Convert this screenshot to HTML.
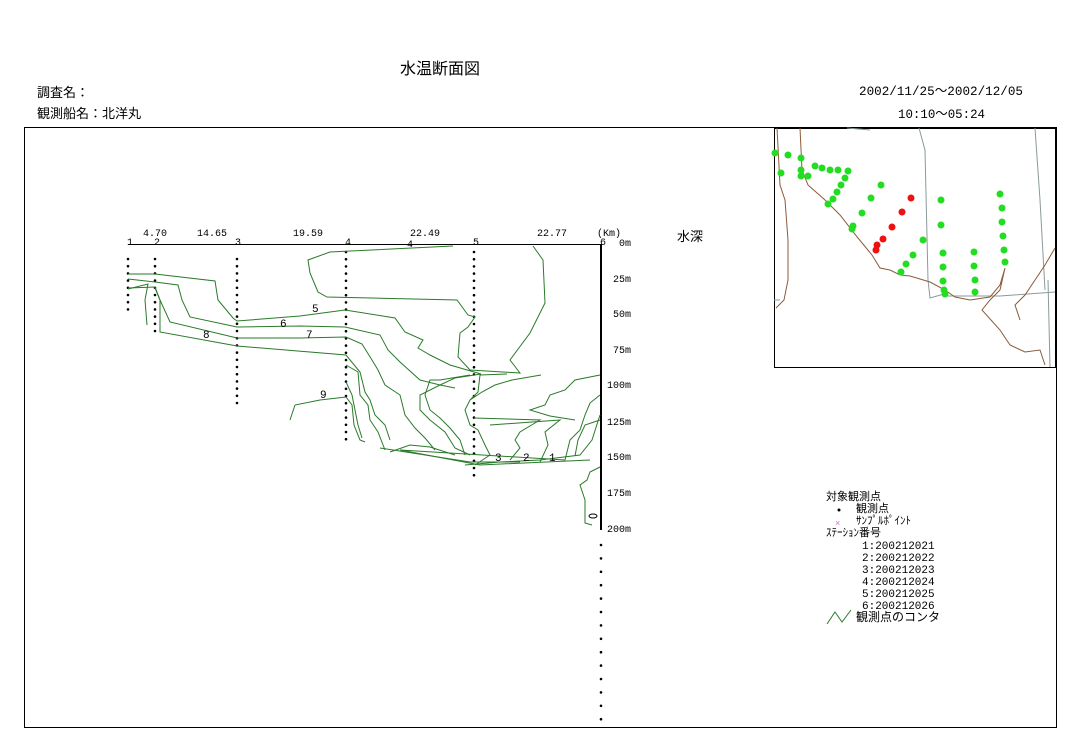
<!DOCTYPE html>
<html><head><meta charset="utf-8"><style>
body{margin:0;background:#fff;}
svg{display:block;font-family:"Liberation Sans","Noto Sans CJK JP",sans-serif;}
</style></head><body>
<svg width="1084" height="755" viewBox="0 0 1084 755" xmlns="http://www.w3.org/2000/svg">
<rect width="1084" height="755" fill="#fff"/>
<text x="400" y="74" font-size="16" fill="#000">水温断面図</text>
<text x="37" y="97" font-size="13">調査名：</text>
<text x="37" y="118" font-size="13">観測船名：北洋丸</text>
<text x="859" y="95" font-size="13" font-family="Liberation Mono,monospace" textLength="164" lengthAdjust="spacingAndGlyphs">2002/11/25～2002/12/05</text>
<text x="898" y="118" font-size="13" font-family="Liberation Mono,monospace" textLength="87" lengthAdjust="spacingAndGlyphs">10:10～05:24</text>
<rect x="24.5" y="127.5" width="1032" height="600" fill="none" stroke="#000" stroke-width="1"/>

<line x1="128" y1="244.5" x2="601" y2="244.5" stroke="#000" stroke-width="1"/>
<g font-size="10" font-family="Liberation Mono,monospace">
<text x="143" y="236">4.70</text><text x="197" y="236">14.65</text><text x="293" y="236">19.59</text>
<text x="410" y="236">22.49</text><text x="537" y="236">22.77</text><text x="597" y="236">(Km)</text>
<text x="127" y="245">1</text><text x="154" y="245">2</text><text x="235" y="245">3</text>
<text x="345" y="245">4</text><text x="473" y="245">5</text><text x="600" y="245">6</text>
<text x="407" y="247">4</text>
<text x="619" y="246">0m</text><text x="613" y="282">25m</text><text x="613" y="317">50m</text>
<text x="613" y="353">75m</text><text x="607" y="388">100m</text><text x="607" y="425">125m</text>
<text x="607" y="460">150m</text><text x="607" y="496">175m</text><text x="607" y="532">200m</text>
</g>
<text x="677" y="241" font-size="13">水深</text>

<g stroke="#000" stroke-width="2.6" stroke-linecap="round" stroke-dasharray="0 7.2">
<line x1="128" y1="259" x2="128" y2="312"/>
<line x1="155" y1="259" x2="155" y2="333"/>
<line x1="237" y1="259" x2="237" y2="405"/>
<line x1="346" y1="252" x2="346" y2="441"/>
<line x1="474" y1="252" x2="474" y2="477"/>
</g>
<line x1="601" y1="244" x2="601" y2="530" stroke="#000" stroke-width="2"/>
<line x1="601" y1="545" x2="601" y2="720" stroke="#000" stroke-width="2.6" stroke-linecap="round" stroke-dasharray="0 13.4"/>

<g fill="none" stroke="#2a7a2a" stroke-width="1">
<polyline points="453,246 330,252 308,260 310,273 318,292 327,297 457,300 468,315 475,317 468,327 460,333 458,357 470,370 520,373 510,360 530,333 545,303 543,260 533,246"/>
<polyline points="128,274 155,274 215,281 218,300 233,318 237,321 300,316 345,310 395,318 405,332 423,340 418,348 430,355 450,365 481,374 455,378 440,385 420,395 420,410 430,420 445,432 455,448 470,455"/>
<polyline points="128,279 155,282 178,285 182,300 190,317 237,327 300,326 345,327 380,335 388,350 400,362 420,380 440,385 455,388"/>
<polyline points="128,288 155,287 160,300 170,322 237,338 300,338 346,337 362,344 372,360 378,370 385,385 400,395 405,415 415,428 425,438 435,450"/>
<polyline points="128,289 148,284 145,300 147,325"/>
<polyline points="155,288 160,300 160,332 237,346 346,355 360,372 365,392 370,400 375,415 385,425 390,440"/>
<polyline points="346,365 358,372 360,395 368,405 370,420 378,432 385,450"/>
<polyline points="346,382 352,395 355,410 358,425 362,438"/>
<polyline points="290,420 295,405 320,400 346,397 352,405 354,425 360,440 365,442"/>
<polyline points="470,375 440,380 430,380 425,395 430,410 440,418 450,428 460,440 465,455"/>
<polyline points="507,374 480,375 478,392 470,400 465,410 470,425 478,430 485,445 490,455 475,465"/>
<polyline points="541,375 512,380 495,385 482,392 470,400"/>
<polyline points="474,418 540,420 520,432 515,440 520,448 510,460"/>
<polyline points="490,425 560,420 545,432 548,445 540,462"/>
<polyline points="600,395 590,403 585,415 580,430 570,440 565,460 400,450 480,465 590,460"/>
<polyline points="600,375 575,380 565,390 550,395 545,405 530,410 550,416 575,420"/>
<polyline points="600,420 585,425 578,440 575,456"/>
<polyline points="600,467 590,472 587,480 580,485 585,500 585,523 592,525"/>
<polyline points="465,465 500,462 540,460 580,455 592,440 600,415"/>
<polyline points="380,448 470,462 520,462"/>
<polyline points="390,452 410,445 430,447 455,455"/>
</g>
<ellipse cx="593" cy="516" rx="4" ry="2" fill="none" stroke="#000"/>
<g font-size="11" font-family="Liberation Mono,monospace">
<text x="312" y="312">5</text><text x="280" y="327">6</text><text x="306" y="338">7</text>
<text x="203" y="338">8</text><text x="320" y="398">9</text>
<text x="495" y="461">3</text><text x="523" y="461">2</text><text x="549" y="461">1</text>
</g>

<rect x="774.5" y="128.5" width="281" height="239" fill="#fff" stroke="#000"/>
<g fill="none" stroke="#8a9a9a" stroke-width="1">
<polyline points="919,128 925,150 928,280 930,298 944,294"/>
<polyline points="1035,128 1040,200 1045,290"/>
<polyline points="944,296 1000,296 1055,292"/>
<polyline points="1048,280 1050,367"/>
<polyline points="774,300 780,300"/>
<polyline points="847,128 870,130"/>
</g>
<g fill="none" stroke="#8b5a3a" stroke-width="1">
<polyline points="777,128 780,185 785,200 788,240 788,280 784,300 776,308"/>
<polyline points="800,128 802,170 808,185 825,200 840,215 858,238 872,255 880,268 890,270 900,275 910,276 930,282 945,290 955,297 970,300 990,297 1000,285 1005,268 1000,290 990,300 982,310 1000,330 1010,345 1025,352 1040,350 1045,365"/>
<polyline points="1055,248 1045,265 1035,280 1025,295 1015,305 1020,320"/>
</g>
<g fill="#22dd22">
<circle cx="775" cy="153" r="3.5"/><circle cx="788" cy="155" r="3.5"/><circle cx="801" cy="158" r="3.5"/>
<circle cx="781" cy="173" r="3.5"/><circle cx="801" cy="170" r="3.5"/><circle cx="801" cy="176" r="3.5"/>
<circle cx="808" cy="176" r="3.5"/><circle cx="815" cy="166" r="3.5"/><circle cx="822" cy="168" r="3.5"/>
<circle cx="830" cy="170" r="3.5"/><circle cx="838" cy="170" r="3.5"/><circle cx="848" cy="171" r="3.5"/>
<circle cx="845" cy="178" r="3.5"/><circle cx="841" cy="185" r="3.5"/><circle cx="837" cy="192" r="3.5"/>
<circle cx="833" cy="199" r="3.5"/><circle cx="828" cy="204" r="3.5"/>
<circle cx="881" cy="185" r="3.5"/><circle cx="871" cy="198" r="3.5"/><circle cx="862" cy="213" r="3.5"/>
<circle cx="853" cy="226" r="3.5"/><circle cx="852" cy="229" r="3.5"/>
<circle cx="923" cy="240" r="3.5"/><circle cx="913" cy="255" r="3.5"/><circle cx="906" cy="264" r="3.5"/><circle cx="901" cy="272" r="3.5"/>
<circle cx="941" cy="200" r="3.5"/><circle cx="941" cy="225" r="3.5"/><circle cx="943" cy="253" r="3.5"/>
<circle cx="943" cy="267" r="3.5"/><circle cx="943" cy="281" r="3.5"/><circle cx="944" cy="290" r="3.5"/><circle cx="945" cy="294" r="3.5"/>
<circle cx="974" cy="252" r="3.5"/><circle cx="974" cy="266" r="3.5"/><circle cx="975" cy="280" r="3.5"/><circle cx="975" cy="292" r="3.5"/>
<circle cx="1000" cy="194" r="3.5"/><circle cx="1002" cy="208" r="3.5"/><circle cx="1002" cy="222" r="3.5"/>
<circle cx="1003" cy="236" r="3.5"/><circle cx="1004" cy="250" r="3.5"/><circle cx="1005" cy="262" r="3.5"/>
</g>
<g fill="#ee1111">
<circle cx="911" cy="198" r="3.5"/><circle cx="902" cy="212" r="3.5"/><circle cx="892" cy="227" r="3.5"/>
<circle cx="883" cy="239" r="3.5"/><circle cx="877" cy="245" r="3.5"/><circle cx="876" cy="250" r="3.5"/>
</g>

<g font-size="11">
<text x="826" y="500">対象観測点</text>
<circle cx="839" cy="510" r="1.5" fill="#000"/>
<text x="856" y="512">観測点</text>
<text x="835" y="526" font-size="9" fill="#dd66cc">×</text>
<text x="856" y="524" font-size="11">ｻﾝﾌﾟﾙﾎﾟｲﾝﾄ</text>
<text x="826" y="536" font-size="11">ｽﾃｰｼｮﾝ番号</text>
</g>
<g font-size="11" font-family="Liberation Mono,monospace">
<text x="862" y="549">1:200212021</text><text x="862" y="561">2:200212022</text>
<text x="862" y="573">3:200212023</text><text x="862" y="585">4:200212024</text>
<text x="862" y="597">5:200212025</text><text x="862" y="609">6:200212026</text>
</g>
<polyline points="827,624 835,612 842,622 851,610" fill="none" stroke="#2a7a2a"/>
<text x="856" y="621" font-size="12">観測点のコンタ</text>
</svg>
</body></html>
